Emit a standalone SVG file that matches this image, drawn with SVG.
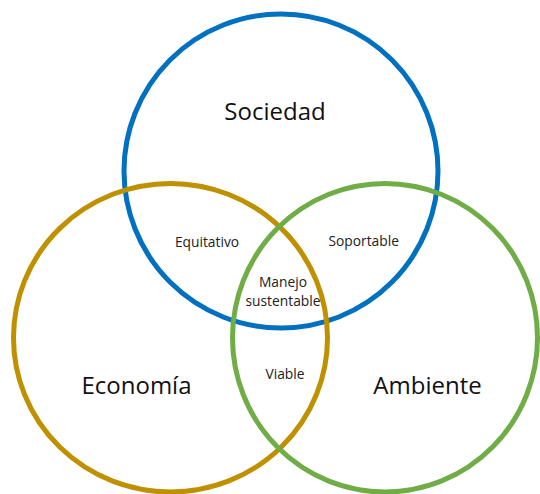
<svg xmlns="http://www.w3.org/2000/svg" width="540" height="494" viewBox="0 0 540 494">
<style>
.ring{fill:none;stroke-width:5}
.big{font-family:"Open Sans","Noto Sans",sans-serif;font-size:24px;fill:#111;text-anchor:middle}
.small{font-family:"Open Sans","Noto Sans",sans-serif;font-size:13.8px;fill:#222;text-anchor:middle}
</style>
<rect width="540" height="494" fill="#fff"/>
<g id="sociedad">
<circle class="ring" cx="281" cy="171" r="157" stroke="#0070C0"/>
<text class="big" x="275" y="120">Sociedad</text>
</g>
<g id="economia">
<ellipse class="ring" cx="170.5" cy="337.7" rx="157" ry="154.3" stroke="#BF9000"/>
<text class="big" x="136.5" y="394">Economía</text>
</g>
<g id="ambiente">
<ellipse class="ring" cx="385" cy="337.7" rx="152.5" ry="154.3" stroke="#70AD47"/>
<text class="big" x="427.5" y="394">Ambiente</text>
</g>
<g id="equitativo">
<text class="small" x="207" y="246.5">Equitativo</text>
</g>
<g id="soportable">
<text class="small" x="363.7" y="246">Soportable</text>
</g>
<g id="manejo-sustentable">
<text class="small" x="283" y="286.5">Manejo</text>
<text class="small" x="283" y="306">sustentable</text>
</g>
<g id="viable">
<text class="small" x="285" y="379">Viable</text>
</g>
</svg>
